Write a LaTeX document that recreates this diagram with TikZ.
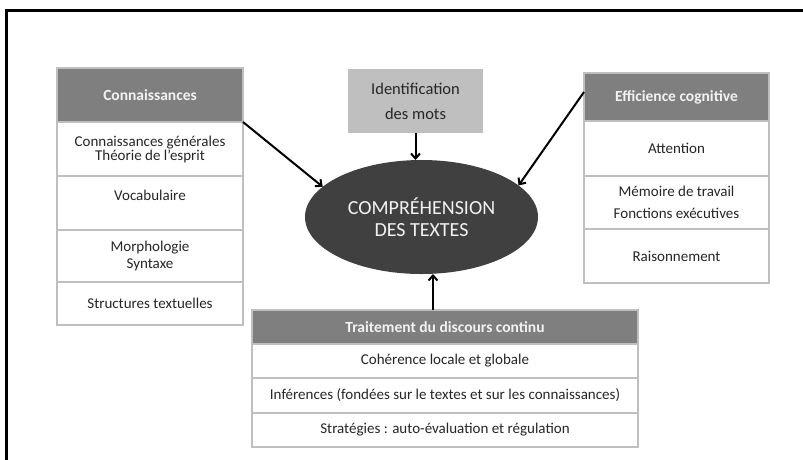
\documentclass[tikz,border=0pt]{standalone}
\usepackage{fontspec}
\setmainfont{Carlito}
\usetikzlibrary{positioning,arrows.meta,shapes.geometric}
\definecolor{headgray}{HTML}{7F7F7F}
\definecolor{boxline}{HTML}{BFBFBF}
\definecolor{identgray}{HTML}{BFBFBF}
\definecolor{ovalgray}{HTML}{404040}
\definecolor{lighttext}{HTML}{F2F2F2}
\definecolor{darktext}{HTML}{262626}
\tikzset{
x=1pt, y=-1pt,
>={Straight Barb[length=5pt,width=9pt]},
every node/.style={inner sep=0pt, outer sep=0pt, align=center},
head/.style={rectangle, draw=boxline, fill=headgray, text=lighttext, line width=1.2pt, font=\bfseries\fontsize{15.5}{18}\selectfont},
cell/.style={rectangle, draw=boxline, fill=white, text=darktext, line width=1.2pt, font=\fontsize{15}{17}\selectfont},
ident/.style={rectangle, fill=identgray, text=darktext, font=\fontsize{16.5}{25}\selectfont},
oval/.style={ellipse, fill=ovalgray, text=lighttext, minimum width=233pt, minimum height=114pt, font=\fontsize{20}{22}\selectfont},
link/.style={->, line width=2pt, black},
}

\begin{document}
\begin{tikzpicture}
        \useasboundingbox (0,0) rectangle (803,459);
        \draw[line width=3pt] (6,470) |- (815,10);

        \node[head, minimum width=186pt, minimum height=54pt] (conn) at (150,95) {Connaissances};
        \node[cell, minimum width=186pt, minimum height=54pt, below=0pt of conn, font=\fontsize{15}{14}\selectfont] (gen) {Connaissances générales\\Théorie de l’esprit};
        \node[cell, minimum width=186pt, minimum height=54pt, below=0pt of gen, text depth=16pt] (voc) {Vocabulaire};
        \node[cell, minimum width=186pt, minimum height=52pt, below=0pt of voc] (morph) {Morphologie\\Syntaxe};
        \node[cell, minimum width=186pt, minimum height=43pt, below=0pt of morph] (struct) {Structures textuelles};

        \node[head, minimum width=185pt, minimum height=48pt] (eff) at (676.5,97) {Efficience cognitive};
        \node[cell, minimum width=185pt, minimum height=55pt, below=0pt of eff] (att) {Attention};
        \node[cell, minimum width=185pt, minimum height=53pt, below=0pt of att, font=\fontsize{15}{22}\selectfont] (mem) {Mémoire de travail\\Fonctions exécutives};
        \node[cell, minimum width=185pt, minimum height=54pt, below=0pt of mem] (rais) {Raisonnement};

        \node[head, minimum width=386pt, minimum height=34pt] (trait) at (445,327) {Traitement du discours continu};
        \node[cell, minimum width=386pt, minimum height=34pt, below=0pt of trait] (coh) {Cohérence locale et globale};
        \node[cell, minimum width=386pt, minimum height=35pt, below=0pt of coh] (inf) {Inférences (fondées sur le textes et sur les connaissances)};
        \node[cell, minimum width=386pt, minimum height=34pt, below=0pt of inf] (strat) {Stratégies : auto-évaluation et régulation};

        \node[ident, minimum width=135pt, minimum height=64pt] (ident) at (415.5,101) {Identification\\des mots};
        \node[oval] (comp) at (421.5,217) {COMPRÉHENSION\\DES TEXTES};

        \draw[link] (conn.south east) -- (comp.163);
        \draw[link] ([yshift=5pt]eff.west) -- (comp.18);
        \draw[link] (ident.south) -- (ident.south |- comp.north);
        \draw[link] ([xshift=-12pt]trait.north) -- ([xshift=-12pt]trait.north |- comp.south);
\end{tikzpicture}
\end{document}
